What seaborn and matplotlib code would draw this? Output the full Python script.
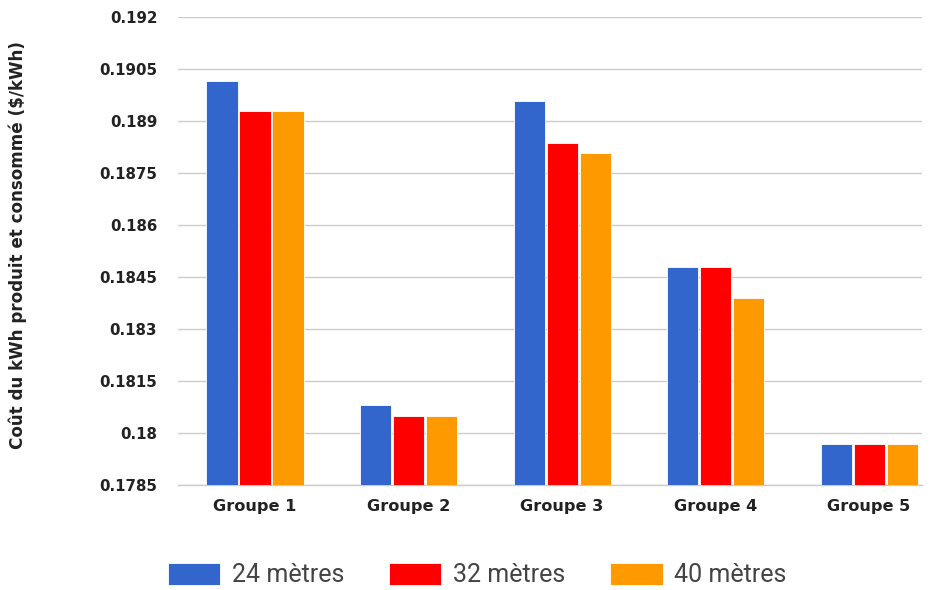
import matplotlib
matplotlib.use("Agg")
import matplotlib.pyplot as plt
import seaborn as sns
import pandas as pd

groups = ["Groupe 1", "Groupe 2", "Groupe 3", "Groupe 4", "Groupe 5"]
series = ["24 mètres", "32 mètres", "40 mètres"]
cost_24 = [0.19016, 0.18080, 0.18958, 0.18479, 0.17968]
cost_32 = [0.18928, 0.18048, 0.18836, 0.18479, 0.17968]
cost_40 = [0.18928, 0.18048, 0.18809, 0.18388, 0.17968]
y_ticks = [0.1785, 0.18, 0.1815, 0.183, 0.1845, 0.186, 0.1875, 0.189, 0.1905, 0.192]
y_tick_labels = ["0.1785", "0.18", "0.1815", "0.183", "0.1845", "0.186",
                 "0.1875", "0.189", "0.1905", "0.192"]
colors = ["#3366CC", "#FF0000", "#FF9900"]

df = pd.DataFrame({
    "groupe": groups * 3,
    "hauteur": [s for s in series for _ in groups],
    "cout": cost_24 + cost_32 + cost_40,
})

sns.set_theme(style="white")
plt.rcParams["font.family"] = ["DejaVu Sans"]

fig = plt.figure(figsize=(9.36, 5.9), dpi=100)
ax = fig.add_axes([178 / 936, 1 - 485 / 590, (922 - 178) / 936, (485 - 17) / 590])

sns.barplot(data=df, x="groupe", y="cout", hue="hauteur", hue_order=series,
            order=groups, palette=colors, width=0.645, gap=0.06,
            saturation=1, edgecolor="#ffffff", linewidth=0.6, ax=ax,
            legend=True, zorder=3)

ax.set_ylim(0.1785, 0.192)
ax.set_xlim(-0.5016, 4.345)
ax.set_yticks(y_ticks)
ax.set_yticklabels(y_tick_labels)
ax.grid(axis="y", color="#cccccc", linewidth=1, zorder=0)
ax.set_axisbelow(True)
for side in ["top", "right", "left"]:
    ax.spines[side].set_visible(False)
ax.spines["bottom"].set_color("#cccccc")
ax.spines["bottom"].set_linewidth(1)

ax.tick_params(axis="y", length=0, pad=15, labelsize=10.8, labelcolor="#222222")
ax.tick_params(axis="x", length=0, pad=10, labelsize=11.6, labelcolor="#222222")
for lbl in ax.get_yticklabels() + ax.get_xticklabels():
    lbl.set_fontweight("bold")

ax.set_xlabel("")
ax.set_ylabel("")
fig.text(18 / 936, 1 - 245 / 590, "Coût du kWh produit et consommé ($/kWh)",
         rotation=90, ha="center", va="center", fontsize=12.1,
         fontweight="bold", color="#222222")

handles, labels = ax.get_legend_handles_labels()
ax.get_legend().remove()
fig.legend(handles, labels, loc="center", bbox_to_anchor=(477 / 936, 1 - 575 / 590),
           ncol=3, frameon=False, handlelength=2.1, handleheight=1.0,
           handletextpad=0.45, columnspacing=1.8,
           prop={"family": "Roboto", "size": 18}, labelcolor="#444444")

fig.savefig("out.png", dpi=100)
